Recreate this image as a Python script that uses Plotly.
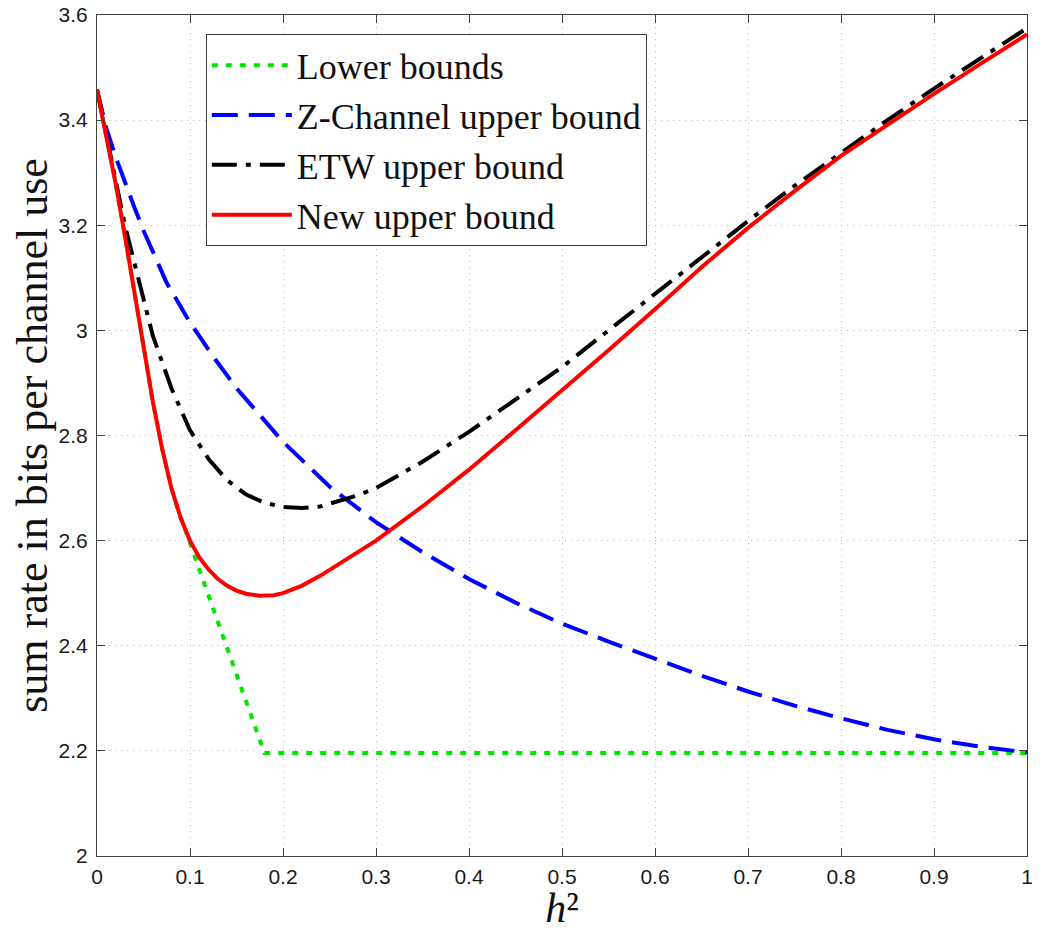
import plotly.graph_objects as go

# ---- data ----
x_new = [0, 0.01, 0.02, 0.03, 0.04, 0.05, 0.06, 0.07, 0.08, 0.09, 0.10, 0.11, 0.12, 0.13,
         0.14, 0.15, 0.16, 0.175, 0.19, 0.20, 0.22, 0.24, 0.26, 0.28, 0.30, 0.35, 0.40,
         0.45, 0.50, 0.55, 0.60, 0.65, 0.70, 0.75, 0.80, 0.85, 0.90, 0.95, 1.00]
y_new = [3.458, 3.37, 3.28, 3.18, 3.075, 2.965, 2.865, 2.775, 2.70, 2.643, 2.600, 2.568,
         2.545, 2.527, 2.514, 2.505, 2.499, 2.495, 2.496, 2.500, 2.514, 2.533, 2.555, 2.578,
         2.600, 2.665, 2.735, 2.810, 2.885, 2.962, 3.040, 3.120, 3.195, 3.265, 3.332, 3.392,
         3.450, 3.507, 3.563]

x_etw = [0, 0.01, 0.02, 0.03, 0.04, 0.05, 0.06, 0.08, 0.10, 0.12, 0.14, 0.16, 0.18, 0.20,
         0.22, 0.24, 0.26, 0.28, 0.30, 0.35, 0.40, 0.45, 0.50, 0.55, 0.60, 0.65, 0.70, 0.75,
         0.80, 0.85, 0.90, 0.95, 1.00]
y_etw = [3.458, 3.37, 3.28, 3.20, 3.13, 3.06, 2.99, 2.89, 2.81, 2.755, 2.715, 2.688, 2.672,
         2.664, 2.662, 2.665, 2.675, 2.686, 2.700, 2.750, 2.807, 2.868, 2.930, 3.000, 3.070,
         3.140, 3.208, 3.275, 3.338, 3.400, 3.460, 3.518, 3.575]

x_z = [0, 0.01, 0.02, 0.03, 0.04, 0.05, 0.075, 0.10, 0.125, 0.15, 0.20, 0.25, 0.30, 0.35,
       0.40, 0.45, 0.50, 0.55, 0.60, 0.65, 0.70, 0.75, 0.80, 0.85, 0.90, 0.95, 1.00]
y_z = [3.458, 3.385, 3.33, 3.28, 3.235, 3.19, 3.09, 3.015, 2.95, 2.89, 2.788, 2.703, 2.635,
       2.578, 2.527, 2.482, 2.442, 2.408, 2.375, 2.343, 2.313, 2.286, 2.262, 2.240, 2.222,
       2.208, 2.197]

x_low = [0, 0.01, 0.02, 0.03, 0.04, 0.05, 0.06, 0.07, 0.08, 0.088, 0.18, 1.00]
y_low = [3.458, 3.37, 3.28, 3.18, 3.075, 2.965, 2.865, 2.775, 2.70, 2.655, 2.196, 2.196]

x_ticks = [0, 0.1, 0.2, 0.3, 0.4, 0.5, 0.6, 0.7, 0.8, 0.9, 1]
y_ticks = [2, 2.2, 2.4, 2.6, 2.8, 3, 3.2, 3.4, 3.6]

names = ["Lower bounds", "Z-Channel upper bound", "ETW upper bound", "New upper bound"]

fig = go.Figure()
fig.add_trace(go.Scatter(x=x_low, y=y_low, mode="lines", name=names[0], legendgroup="a",
                         line=dict(color="#00e600", width=4, dash="6px,8px")))
fig.add_trace(go.Scatter(x=x_z, y=y_z, mode="lines", name=names[1], legendgroup="b",
                         line=dict(color="#0000ff", width=4, dash="26px,11px")))
fig.add_trace(go.Scatter(x=x_etw, y=y_etw, mode="lines", name=names[2], legendgroup="c",
                         line=dict(color="#000000", width=4, dash="25px,9px,5px,9px")))
fig.add_trace(go.Scatter(x=x_new, y=y_new, mode="lines", name=names[3], legendgroup="d",
                         line=dict(color="#ff0000", width=4)))

axis_common = dict(
    showline=True, linecolor="#404040", linewidth=1, mirror="ticks",
    ticks="inside", ticklen=8, tickcolor="#404040", tickwidth=1,
    showgrid=True, gridcolor="#bdbdbd", gridwidth=1, griddash="1px,5px",
    zeroline=False, automargin=False, ticklabeloverflow="allow",
    tickfont=dict(family="Liberation Sans", size=21, color="#1a1a1a"),
)

fig.update_xaxes(range=[0, 1], tickvals=x_ticks, ticktext=[str(v) for v in x_ticks],
                 title=dict(text="<i>h</i>²",
                            font=dict(family="Liberation Serif", size=42, color="#111"),
                            standoff=30),
                 ticklabelstandoff=2, **axis_common)
fig.update_yaxes(range=[2, 3.6], tickvals=y_ticks, ticktext=[str(v) for v in y_ticks],
                 title=dict(text="sum rate in bits per channel use",
                            font=dict(family="Liberation Serif", size=44, color="#111"),
                            standoff=22),
                 ticklabelstandoff=4, **axis_common)

# the page body adds an 8px margin, so the figure is sized to fit inside it
fig.update_layout(
    width=1024, height=923,
    margin=dict(l=89, r=5, t=7, b=75),
    paper_bgcolor="white", plot_bgcolor="white",
    showlegend=True,
    legend=dict(x=0.117, y=0.977, xanchor="left", yanchor="top",
                bgcolor="white", bordercolor="#404040", borderwidth=1,
                font=dict(family="Liberation Serif", size=36, color="#111"),
                traceorder="grouped", tracegroupgap=0, itemwidth=80),
)

fig.write_html("out.html")
